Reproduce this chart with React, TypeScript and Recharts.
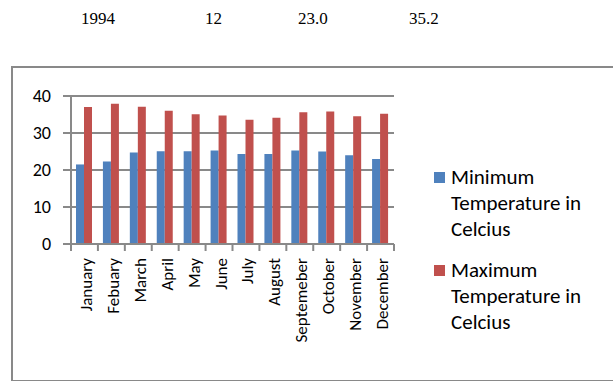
import React from "react"
import { BarChart, Bar, XAxis, YAxis, CartesianGrid } from "recharts"

const months = [
  "January", "Febuary", "March", "April", "May", "June",
  "July", "August", "Septemeber", "October", "November", "December",
]
const minTemp = [21.5, 22.3, 24.7, 25.1, 25.1, 25.3, 24.3, 24.3, 25.3, 25.0, 24.0, 23.0]
const maxTemp = [37.0, 37.9, 37.1, 36.0, 35.1, 34.7, 33.6, 34.1, 35.6, 35.8, 34.5, 35.2]
const yTicks = [0, 10, 20, 30, 40]
const headerCells = ["1994", "12", "23.0", "35.2"]
const headerX = [81, 205, 298, 409]

const MIN_NAME = "Minimum Temperature in Celcius"
const MAX_NAME = "Maximum Temperature in Celcius"
const BLUE = "#4f81bd"
const RED = "#c0504d"
const GRID = "#898989"
const FONT = "Carlito, Lato, sans-serif"

const data = months.map((m, i) => ({ month: m, min: minTemp[i], max: maxTemp[i] }))

function MonthTick(props: any) {
  const { x, y, payload, index } = props
  const band = 323 / months.length
  return (
    <g>
      <line x1={x - band / 2} x2={x - band / 2} y1={y - 8} y2={y - 1} stroke={GRID} strokeWidth={2} />
      {index === months.length - 1 && (
        <line x1={x + band / 2} x2={x + band / 2} y1={y - 8} y2={y - 1} stroke={GRID} strokeWidth={2} />
      )}
      <text
        x={x + 2}
        y={y + 6}
        transform={`rotate(-90, ${x + 2}, ${y + 6})`}
        textAnchor="end"
        dominantBaseline="central"
        fill="#000"
        style={{ fontFamily: FONT, fontSize: 17 }}
      >
        {payload.value}
      </text>
    </g>
  )
}

function LegendBox() {
  const items = [
    { name: MIN_NAME, color: BLUE },
    { name: MAX_NAME, color: RED },
  ]
  return (
    <div style={{ fontFamily: FONT, fontSize: 21, color: "#000" }}>
      {items.map((it, i) => (
        <div key={it.name} style={{ display: "flex", marginTop: i === 0 ? 0 : 15 }}>
          <div style={{ width: 11, height: 11, background: it.color, marginTop: 8, marginRight: 6, flex: "none" }} />
          <div style={{ width: 155, lineHeight: "26px" }}>{it.name}</div>
        </div>
      ))}
    </div>
  )
}

export default function App() {
  return (
    <div style={{ position: "absolute", left: 0, top: 0, width: 613, height: 381, overflow: "hidden", background: "#fff" }}>
      {headerCells.map((t, i) => (
        <div
          key={t}
          style={{
            position: "absolute", left: headerX[i], top: 9,
            fontFamily: "'Liberation Serif', 'Times New Roman', serif", fontSize: 17, color: "#000",
          }}
        >
          {t}
        </div>
      ))}
      <div
        style={{
          position: "absolute", left: 11, top: 66, width: 620, height: 312,
          border: `2px solid ${GRID}`,
        }}
      />
      <div style={{ position: "absolute", left: 0, top: 0 }}>
        <BarChart
          width={613}
          height={381}
          data={data}
          margin={{ top: 96, right: 219, left: 21, bottom: 17 }}
          barGap={0}
          barSize={8}
        >
          <CartesianGrid vertical={false} stroke={GRID} strokeWidth={2} />
          <XAxis
            dataKey="month"
            height={120}
            interval={0}
            tickLine={false}
            axisLine={{ stroke: GRID, strokeWidth: 2 }}
            tick={<MonthTick />}
          />
          <YAxis
            domain={[0, 40]}
            ticks={yTicks}
            width={50}
            tickSize={8}
            tickMargin={12}
            axisLine={{ stroke: GRID, strokeWidth: 2 }}
            tickLine={{ stroke: GRID, strokeWidth: 2 }}
            tick={{ fill: "#000", fontSize: 18, fontFamily: FONT }}
          />
          <Bar dataKey="min" name={MIN_NAME} fill={BLUE} isAnimationActive={false} />
          <Bar dataKey="max" name={MAX_NAME} fill={RED} isAnimationActive={false} />
        </BarChart>
      </div>
      <div style={{ position: "absolute", left: 434, top: 164, width: 178 }}>
        <LegendBox />
      </div>
    </div>
  )
}
